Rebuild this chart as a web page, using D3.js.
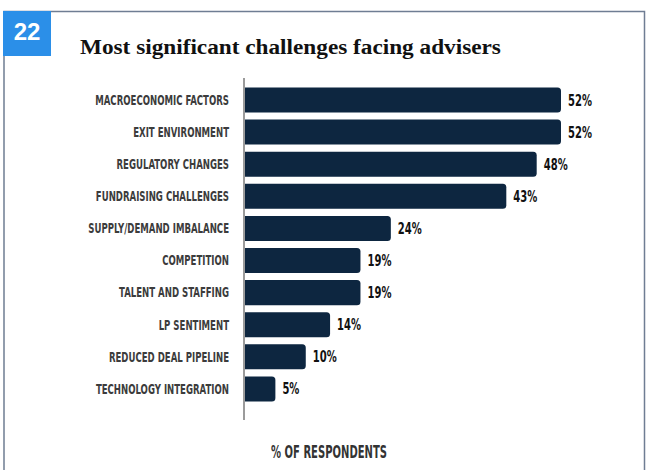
<!DOCTYPE html>
<html>
<head>
<meta charset="utf-8">
<script src="https://cdn.jsdelivr.net/npm/d3@7"></script>
<style>
  body { margin: 0; background: #ffffff; }
  svg { display: block; }
</style>
</head>
<body>
<svg id="chart" width="649" height="470"></svg>
<script>
// Survey results: share of advisers naming each challenge
const categories = [
  "MACROECONOMIC FACTORS",
  "EXIT ENVIRONMENT",
  "REGULATORY CHANGES",
  "FUNDRAISING CHALLENGES",
  "SUPPLY/DEMAND IMBALANCE",
  "COMPETITION",
  "TALENT AND STAFFING",
  "LP SENTIMENT",
  "REDUCED DEAL PIPELINE",
  "TECHNOLOGY INTEGRATION"
];
const values = [52, 52, 48, 43, 24, 19, 19, 14, 10, 5];
const chartNumber = "22";
const chartTitle = "Most significant challenges facing advisers";
const axisTitle = "% OF RESPONDENTS";

const svg = d3.select("#chart");
const condensed = "'DejaVu Sans Condensed', 'DejaVu Sans', sans-serif";

// Squeeze a text horizontally so its rendered width equals `target`,
// keeping its anchor point fixed. Returns the horizontal scale applied.
function squeeze(textSel, ax, ay, k) {
  textSel.attr("x", 0).attr("y", 0)
    .attr("transform", `translate(${ax},${ay}) scale(${k},1)`);
}

// Frame around the exhibit
svg.append("path")
  .attr("d", "M4,470 V11.5 H644.5 V470")
  .attr("fill", "none")
  .attr("stroke", "#6f7d93")
  .attr("stroke-width", 1.5);

// Exhibit number badge
svg.append("rect")
  .attr("x", 3).attr("y", 11).attr("width", 48).attr("height", 45)
  .attr("fill", "#2b8fe8");
svg.append("text")
  .attr("x", 27).attr("y", 39.5)
  .attr("text-anchor", "middle")
  .attr("fill", "#ffffff")
  .style("font-family", "'Liberation Sans', Arial, sans-serif")
  .style("font-weight", "bold")
  .style("font-size", "24px")
  .text(chartNumber);

// Title
const titleText = svg.append("text")
  .attr("fill", "#111111")
  .style("font-family", "'Liberation Serif', 'DejaVu Serif', serif")
  .style("font-weight", "bold")
  .style("font-size", "22px")
  .text(chartTitle);
squeeze(titleText, 80, 54, 421 / titleText.node().getComputedTextLength());

// Scales
const x = d3.scaleLinear().domain([0, 52]).range([245, 561]);
const y = d3.scaleBand().domain(categories).range([80.4, 408.5]).padding(0.22);

// Bar with rounded right end
function barPath(x0, x1, y0, h, r) {
  r = Math.min(r, (x1 - x0) / 2, h / 2);
  return `M${x0},${y0} H${x1 - r} Q${x1},${y0} ${x1},${y0 + r} V${y0 + h - r} Q${x1},${y0 + h} ${x1 - r},${y0 + h} H${x0} Z`;
}

const rows = categories.map((c, i) => ({ category: c, value: values[i] }));

svg.append("g").selectAll("path")
  .data(rows)
  .join("path")
  .attr("d", d => barPath(x(0), x(d.value), y(d.category), y.bandwidth(), 3.5))
  .attr("fill", "#0d2640");

// Category labels (tall condensed lettering)
const catLabels = svg.append("g").selectAll("text")
  .data(rows)
  .join("text")
  .attr("dy", "0.36em")
  .attr("text-anchor", "end")
  .attr("fill", "#3c3c3c")
  .style("font-family", condensed)
  .style("font-weight", "bold")
  .style("font-size", "13.5px")
  .text(d => d.category);
const catK = 134 / catLabels.nodes()[0].getComputedTextLength();
catLabels.each(function (d) {
  squeeze(d3.select(this), 229, y(d.category) + y.bandwidth() / 2, catK);
});

// Value labels
const valLabels = svg.append("g").selectAll("text")
  .data(rows)
  .join("text")
  .attr("dy", "0.36em")
  .attr("fill", "#111111")
  .style("font-family", condensed)
  .style("font-weight", "bold")
  .style("font-size", "15.5px")
  .text(d => d.value + "%");
const valK = 24 / valLabels.nodes()[0].getComputedTextLength();
valLabels.each(function (d) {
  squeeze(d3.select(this), x(d.value) + 7, y(d.category) + y.bandwidth() / 2, valK);
});

// Baseline axis
svg.append("line")
  .attr("x1", 244).attr("x2", 244)
  .attr("y1", 78).attr("y2", 420)
  .attr("stroke", "#7a7a7a")
  .attr("stroke-width", 1.5);

// Axis title
const axisText = svg.append("text")
  .attr("text-anchor", "middle")
  .attr("fill", "#333333")
  .style("font-family", condensed)
  .style("font-weight", "bold")
  .style("font-size", "17.5px")
  .text(axisTitle);
squeeze(axisText, 329, 458, 116 / axisText.node().getComputedTextLength());
</script>
</body>
</html>
